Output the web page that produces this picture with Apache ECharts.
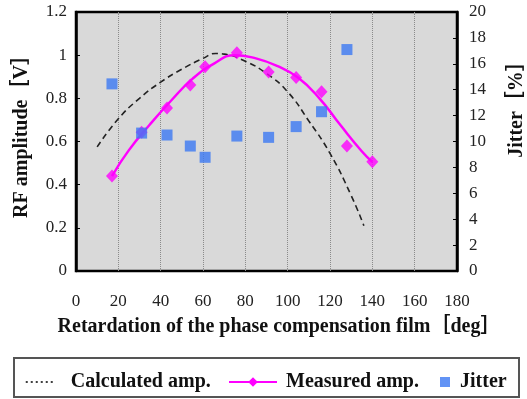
<!DOCTYPE html>
<html><head><meta charset="utf-8">
<script src="https://cdn.jsdelivr.net/npm/echarts@6/dist/echarts.min.js"></script>
<style>html,body{margin:0;padding:0;background:#fff}#c{width:527px;height:399px}</style>
</head><body><div id="c"></div>
<script>
// Calculated amplitude curve
const calcX = [10, 20, 30, 40, 50, 60, 66, 70, 80, 90, 100, 110, 120, 130, 136];
const calcY = [0.575, 0.705, 0.80, 0.875, 0.935, 0.985, 1.008, 1.005, 0.972, 0.915, 0.83, 0.695, 0.545, 0.35, 0.21];
// Measured amplitude fit curve
const fitX = [17, 25, 35, 45, 55, 65, 75, 85, 95, 105, 115, 125, 135, 140];
const fitY = [0.44, 0.56, 0.68, 0.79, 0.89, 0.96, 1.0, 0.985, 0.95, 0.895, 0.80, 0.675, 0.555, 0.505];
// Measured amplitude points
const measX = [17, 31, 43, 54, 61, 76, 91, 104, 116, 128, 140];
const measY = [0.44, 0.643, 0.755, 0.862, 0.946, 1.011, 0.922, 0.896, 0.831, 0.579, 0.506];
// Jitter points
const jitX = [17, 31, 43, 54, 61, 76, 91, 104, 116, 128];
const jitY = [14.45, 10.65, 10.5, 9.65, 8.78, 10.42, 10.32, 11.15, 12.3, 17.1];

const xTicks = {min: 0, max: 180, interval: 20};
const yLeft = {min: 0, max: 1.2, interval: 0.2};
const yRight = {min: 0, max: 20, interval: 2};

const zip = (a, b) => a.map((v, i) => [v, b[i]]);
const serif = "'Liberation Serif', 'Noto Sans CJK JP', serif";
const MAG = '#ff00ff', BLUE = '#3b78f2';
const nameStyle = {fontFamily: serif, fontWeight: 'bold', fontSize: 20, color: '#111'};

const chart = echarts.init(document.getElementById('c'), null, {renderer: 'canvas'});
chart.setOption({
  animation: false,
  backgroundColor: '#fff',
  grid: {left: 76, top: 12, right: 70, bottom: 128, containLabel: false, outerBoundsMode: 'none',
    show: true, backgroundColor: '#d9d9d9', borderColor: '#000', borderWidth: 2.5},
  xAxis: {
    type: 'value', min: xTicks.min, max: xTicks.max, interval: xTicks.interval,
    name: 'Retardation of the phase compensation film［deg］', nameLocation: 'middle', nameGap: 46,
    nameTextStyle: Object.assign({}, nameStyle, {padding: [0, 0, 0, 25]}),
    axisLine: {show: false}, axisTick: {show: false},
    axisLabel: {margin: 22, fontFamily: serif, fontSize: 17, color: '#222'},
    splitLine: {show: true, lineStyle: {type: 'dotted', color: '#8a8a8a', width: 1}}
  },
  yAxis: [{
    type: 'value', min: yLeft.min, max: yLeft.max, interval: yLeft.interval, position: 'left',
    name: 'RF amplitude［V］', nameLocation: 'middle', nameGap: 44, nameRotate: 90,
    nameTextStyle: Object.assign({}, nameStyle, {padding: [0, 0, 0, 20]}),
    axisLine: {show: true, lineStyle: {color: '#000', width: 2.5}},
    axisTick: {show: true, inside: true, length: 4, lineStyle: {color: '#000'}},
    axisLabel: {margin: 9, fontFamily: serif, fontSize: 17, color: '#222'},
    splitLine: {show: false}
  }, {
    type: 'value', min: yRight.min, max: yRight.max, interval: yRight.interval, position: 'right',
    name: 'Jitter［%］', nameLocation: 'middle', nameGap: 50, nameRotate: 90,
    nameTextStyle: Object.assign({}, nameStyle, {padding: [0, 0, 0, 74]}),
    axisLine: {show: true, lineStyle: {color: '#000', width: 2.5}},
    axisTick: {show: true, inside: true, length: 4, lineStyle: {color: '#000'}},
    axisLabel: {margin: 12, fontFamily: serif, fontSize: 17, color: '#222'},
    splitLine: {show: false}
  }],
  graphic: [{type: 'rect', z: 0, shape: {x: 14, y: 358, width: 505, height: 39}, style: {fill: '#fff', stroke: '#555', lineWidth: 2}}],
  legend: [{
    left: 25, top: 372, padding: 0, itemWidth: 28, itemHeight: 14, z: 10,
    data: [{name: 'Calculated amp.', itemStyle: {opacity: 0}, lineStyle: {type: [2, 3], width: 1.5, color: '#000'}}],
    textStyle: Object.assign({}, nameStyle, {padding: [0, 0, 0, 12]})
  }, {
    left: 228, top: 372, padding: 0, itemWidth: 48, itemHeight: 12, z: 10,
    data: ['Measured amp.'],
    textStyle: Object.assign({}, nameStyle, {padding: [0, 0, 0, 4]})
  }, {
    left: 440, top: 372, padding: 0, itemWidth: 10, itemHeight: 10, z: 10,
    data: [{name: 'Jitter', icon: 'rect'}],
    textStyle: Object.assign({}, nameStyle, {padding: [0, 0, 0, 5]})
  }],
  series: [{
    name: 'Calculated amp.', type: 'line', yAxisIndex: 0, smooth: true, symbol: 'none',
    data: zip(calcX, calcY), lineStyle: {color: '#222', width: 1.6, type: [6, 4]}, itemStyle: {color: '#222'}, z: 3
  }, {
    name: 'Measured amp.', type: 'line', yAxisIndex: 0, smooth: true, symbol: 'diamond', symbolSize: 11, showSymbol: false,
    data: zip(fitX, fitY), lineStyle: {color: MAG, width: 2.5}, itemStyle: {color: MAG}, z: 4
  }, {
    name: 'Measured amp.', type: 'scatter', yAxisIndex: 0, symbol: 'diamond', symbolSize: [12, 13],
    data: zip(measX, measY), itemStyle: {color: MAG}, z: 5
  }, {
    name: 'Jitter', type: 'scatter', yAxisIndex: 1, symbol: 'rect', symbolSize: 11,
    data: zip(jitX, jitY), itemStyle: {color: BLUE}, z: 5
  }]
});
</script></body></html>
